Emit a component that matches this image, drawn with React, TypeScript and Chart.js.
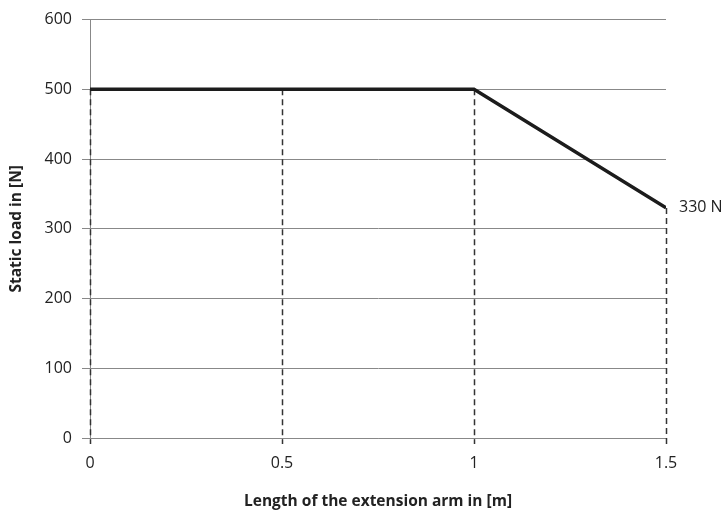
import React, { useEffect, useRef } from "react";
import { Chart, registerables } from "chart.js";

Chart.register(...registerables);

const xValues = [0, 0.5, 1, 1.5];
const loadValues = [500, 500, 500, 330];
const xTickValues = [0, 0.5, 1, 1.5];
const yTickValues = [0, 100, 200, 300, 400, 500, 600];
const endLabel = "330 N";
const xTitle = "Length of the extension arm in [m]";
const yTitle = "Static load in [N]";

const FONT = "'Open Sans', 'DejaVu Sans', sans-serif";

const dropLinesPlugin = {
  id: "dropLines",
  beforeDatasetsDraw(chart: any) {
    const { ctx, scales } = chart;
    const xs = scales.x;
    const ys = scales.y;
    ctx.save();
    ctx.strokeStyle = "#333333";
    ctx.lineWidth = 1.5;
    ctx.setLineDash([6, 4]);
    const base = ys.getPixelForValue(0);
    xValues.forEach((xv, i) => {
      const px = Math.round(xs.getPixelForValue(xv)) + 0.5;
      const py = ys.getPixelForValue(loadValues[i]);
      ctx.beginPath();
      ctx.moveTo(px, py);
      ctx.lineTo(px, base + 6);
      ctx.stroke();
    });
    ctx.restore();
  },
  afterDatasetsDraw(chart: any) {
    const { ctx, scales } = chart;
    const last = xValues.length - 1;
    const px = scales.x.getPixelForValue(xValues[last]);
    const py = scales.y.getPixelForValue(loadValues[last]);
    ctx.save();
    ctx.fillStyle = "#222222";
    ctx.font = `16px ${FONT}`;
    ctx.textAlign = "left";
    ctx.textBaseline = "middle";
    ctx.fillText(endLabel, px + 13, py);
    ctx.restore();
  },
};

export default function App() {
  const ref = useRef<HTMLCanvasElement | null>(null);

  useEffect(() => {
    if (!ref.current) return;
    const chart = new Chart(ref.current, {
      type: "line",
      data: {
        datasets: [
          {
            data: xValues.map((x, i) => ({ x, y: loadValues[i] })),
            borderColor: "#1c1c1c",
            borderWidth: 3.5,
            pointRadius: 0,
            fill: false,
            tension: 0,
          },
        ],
      },
      options: {
        responsive: false,
        animation: false,
        layout: { padding: { top: 19, right: 62, left: 0, bottom: 0 } },
        plugins: {
          legend: { display: false },
          tooltip: { enabled: false },
        },
        scales: {
          x: {
            type: "linear",
            min: 0,
            max: 1.5,
            afterBuildTicks: (s: any) => {
              s.ticks = xTickValues.map((v) => ({ value: v }));
            },
            afterFit: (s: any) => {
              s.height = 73;
            },
            ticks: {
              color: "#222222",
              font: { family: FONT, size: 16 },
              padding: 10,
              maxRotation: 0,
              callback: (v: any) => String(v),
            },
            grid: {
              drawOnChartArea: false,
              drawTicks: true,
              tickLength: 6,
              color: "#888888",
              lineWidth: 1,
            },
            border: { display: true, color: "#888888", width: 1 },
            title: {
              display: true,
              text: xTitle,
              color: "#222222",
              font: { family: FONT, size: 15.5, weight: "bold" },
              padding: { top: 7, bottom: 0 },
            },
          },
          y: {
            type: "linear",
            min: 0,
            max: 600,
            afterBuildTicks: (s: any) => {
              s.ticks = yTickValues.map((v) => ({ value: v }));
            },
            afterFit: (s: any) => {
              s.width = 90;
            },
            ticks: {
              color: "#222222",
              font: { family: FONT, size: 16 },
              padding: 10,
              callback: (v: any) => String(v),
            },
            grid: {
              color: "#888888",
              lineWidth: 1,
              tickLength: 8,
            },
            border: { display: true, color: "#888888", width: 1 },
            title: {
              display: true,
              text: yTitle,
              color: "#222222",
              font: { family: FONT, size: 15.5, weight: "bold" },
              padding: { top: 7, bottom: 0 },
            },
          },
        },
      },
      plugins: [dropLinesPlugin],
    });
    return () => chart.destroy();
  }, []);

  return (
    <div style={{ position: "fixed", left: 0, top: 0, width: 728, height: 511, background: "#fff" }}>
      <canvas ref={ref} width={728} height={511} style={{ display: "block" }} />
    </div>
  );
}
